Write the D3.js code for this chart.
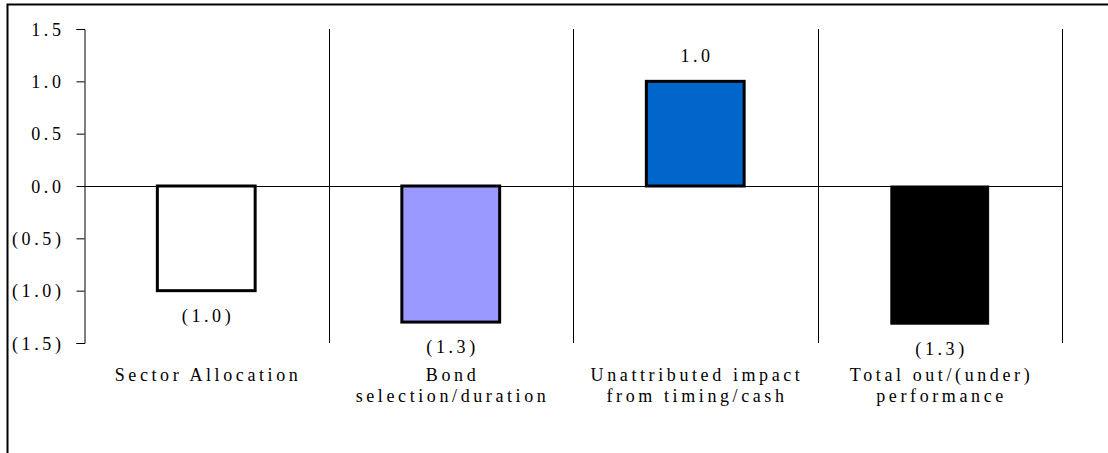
<!DOCTYPE html>
<html>
<head>
<meta charset="utf-8">
<script src="https://cdn.jsdelivr.net/npm/d3@7"></script>
<style>
  html, body { margin: 0; padding: 0; background: #fff; }
  svg { display: block; }
</style>
</head>
<body>
<svg id="chart" width="1108" height="453" font-family="Liberation Serif, Times New Roman, serif" font-size="18"></svg>
<script>
// Attribution components (percentage points)
const categories = [
  "Sector Allocation",
  "Bond selection/duration",
  "Unattributed impact from timing/cash",
  "Total out/(under) performance"
];
const categoryLines = [
  ["Sector Allocation"],
  ["Bond", "selection/duration"],
  ["Unattributed impact", "from timing/cash"],
  ["Total out/(under)", "performance"]
];
const values = [-1.0, -1.3, 1.0, -1.32];
const barColors = ["#ffffff", "#9999ff", "#0066cc", "#000000"];
const tickValues = [-1.5, -1.0, -0.5, 0.0, 0.5, 1.0, 1.5];

const LS = 3.6;   // letter spacing used for all text

const svg = d3.select("#chart");

const styleText = sel => sel
  .attr("letter-spacing", LS)
  .attr("fill", "#000");

// Outer frame (left and top edges visible)
svg.append("path")
  .attr("d", "M7.5,470V4.5H1120")
  .attr("fill", "none")
  .attr("stroke", "#000")
  .attr("stroke-width", 2);

const x = d3.scaleBand().domain(categories).range([84, 1062]).padding(0);
const y = d3.scaleLinear().domain([-1.5, 1.5]).range([343, 29]);

const fmt = v => {
  const s = Math.abs(v).toFixed(1);
  return v < 0 ? "(" + s + ")" : s;
};

// Vertical category dividers
const dividers = categories.map(c => x(c) + x.bandwidth());
svg.append("g")
  .selectAll("line")
  .data(dividers)
  .join("line")
  .attr("x1", d => Math.round(d) + 0.5)
  .attr("x2", d => Math.round(d) + 0.5)
  .attr("y1", y(1.5))
  .attr("y2", y(-1.5))
  .attr("stroke", "#000")
  .attr("stroke-width", 1);

// Y axis
const yAxis = d3.axisLeft(y)
  .tickValues(tickValues)
  .tickFormat(fmt)
  .tickSize(8)
  .tickPadding(12);
const ga = svg.append("g")
  .attr("transform", "translate(84.5,0)")
  .call(yAxis);
ga.attr("font-family", null).attr("font-size", null);
ga.select(".domain").attr("stroke", "#000").attr("stroke-width", 1);
ga.selectAll(".tick line").attr("stroke", "#000");
ga.selectAll(".tick text")
  .call(styleText)
  .attr("dy", "0.35em");

// Bars
const barW = x.bandwidth() * 0.4;
svg.append("g")
  .selectAll("rect")
  .data(values)
  .join("rect")
  .attr("x", (d, i) => x(categories[i]) + (x.bandwidth() - barW) / 2)
  .attr("y", d => y(Math.max(0, d)))
  .attr("width", barW)
  .attr("height", d => Math.abs(y(d) - y(0)))
  .attr("fill", (d, i) => barColors[i])
  .attr("stroke", "#000")
  .attr("stroke-width", (d, i) => i === 3 ? 1 : 3);

// Zero line
svg.append("line")
  .attr("x1", 84)
  .attr("x2", 1062)
  .attr("y1", Math.round(y(0)) + 0.5)
  .attr("y2", Math.round(y(0)) + 0.5)
  .attr("stroke", "#000")
  .attr("stroke-width", 1);

// Value labels
svg.append("g")
  .selectAll("text")
  .data(values)
  .join("text")
  .call(styleText)
  .attr("x", (d, i) => x(categories[i]) + x.bandwidth() / 2 + LS / 2)
  .attr("y", d => d < 0 ? y(d) + 31 : y(d) - 19)
  .attr("text-anchor", "middle")
  .text(fmt);

// Category labels
const cat = svg.append("g")
  .selectAll("text")
  .data(categoryLines)
  .join("text")
  .call(styleText)
  .attr("x", (d, i) => x(categories[i]) + x.bandwidth() / 2 + LS / 2)
  .attr("y", 381)
  .attr("text-anchor", "middle");
cat.selectAll("tspan")
  .data(d => d)
  .join("tspan")
  .attr("x", function() { return this.parentNode.getAttribute("x"); })
  .attr("dy", (d, i) => i === 0 ? 0 : 21)
  .text(d => d);
</script>
</body>
</html>
